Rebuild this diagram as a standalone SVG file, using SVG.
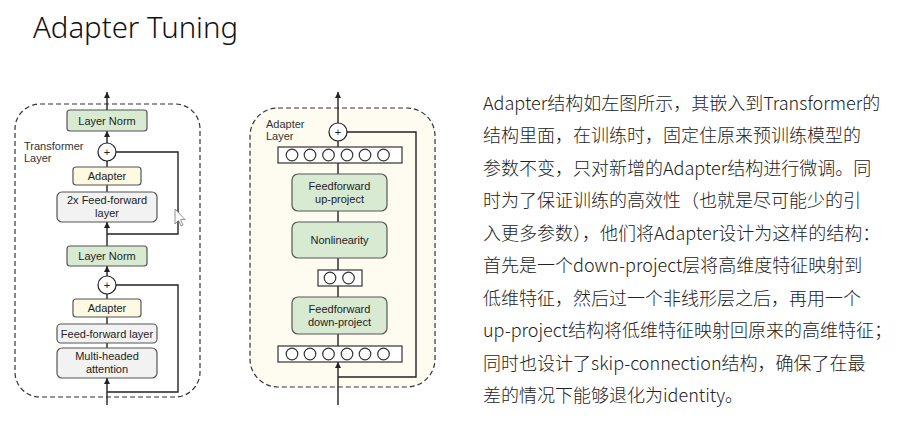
<svg xmlns="http://www.w3.org/2000/svg" width="902" height="425" viewBox="0 0 902 425">
<defs>
<marker id="ah" viewBox="0 0 10 10" refX="10" refY="5" markerWidth="6" markerHeight="6" orient="auto" markerUnits="userSpaceOnUse">
<path d="M0,0 L10,5 L0,10 z" fill="#222"/>
</marker>
<style>
.lbl{font-family:"Liberation Sans",Arial,sans-serif;font-size:11px;fill:#222;text-anchor:middle}
.cap{font-family:"Liberation Sans",Arial,sans-serif;font-size:11px;fill:#333}
.green{fill:#d9ead3;stroke:#555;stroke-width:1.2}
.cream{fill:#fdf9e3;stroke:#555;stroke-width:1.2}
.gray{fill:#f2f2f2;stroke:#555;stroke-width:1.2}
.neu{fill:#fff;stroke:#333;stroke-width:1.2}
.ln{stroke:#222;stroke-width:1.4;fill:none}
.dash{stroke:#333;stroke-width:1.2;stroke-dasharray:5 3}
.body{font-family:"Noto Sans CJK SC","Noto Sans",sans-serif;font-size:18px;fill:#222;font-weight:300}
</style>
</defs>
<rect width="902" height="425" fill="#fff"/>
<text x="33" y="38" font-family="'Noto Sans','Noto Sans CJK SC',sans-serif" font-size="30" font-weight="300" fill="#111" textLength="205" lengthAdjust="spacingAndGlyphs">Adapter Tuning</text>

<!-- containers -->
<g id="transformer-layer">
<rect x="15" y="104" width="185" height="293" rx="25" fill="#fff" class="dash"/>
<text class="cap" x="24" y="150">Transformer</text>
<text class="cap" x="24" y="162">Layer</text>
</g>
<g id="adapter-layer">
<rect x="250" y="108" width="185" height="279" rx="28" fill="#fefcf0" class="dash"/>
<text class="cap" x="266" y="128">Adapter</text>
<text class="cap" x="266" y="140">Layer</text>
</g>

<!-- connectors -->
<g id="connectors">
<line class="ln" x1="107" y1="110" x2="107" y2="92" marker-end="url(#ah)"/>
<line class="ln" x1="107" y1="143" x2="107" y2="131" marker-end="url(#ah)"/>
<line class="ln" x1="107" y1="167" x2="107" y2="161"/>
<line class="ln" x1="107" y1="192" x2="107" y2="185"/>
<line class="ln" x1="107" y1="246" x2="107" y2="222" marker-end="url(#ah)"/>
<line class="ln" x1="107" y1="276" x2="107" y2="266" marker-end="url(#ah)"/>
<line class="ln" x1="107" y1="299" x2="107" y2="294"/>
<line class="ln" x1="107" y1="324" x2="107" y2="317"/>
<line class="ln" x1="107" y1="348" x2="107" y2="343"/>
<line class="ln" x1="107" y1="405" x2="107" y2="378" marker-end="url(#ah)"/>
<polyline class="ln" points="116,152 178,152 178,234 107,234"/>
<polyline class="ln" points="116,285 178,285 178,392 107,392"/>

<line class="ln" x1="338" y1="123" x2="338" y2="92" marker-end="url(#ah)"/>
<line class="ln" x1="338" y1="147" x2="338" y2="141"/>
<line class="ln" x1="338" y1="174" x2="338" y2="163"/>
<line class="ln" x1="338" y1="222" x2="338" y2="211"/>
<line class="ln" x1="338" y1="270" x2="338" y2="258"/>
<line class="ln" x1="338" y1="297" x2="338" y2="286"/>
<line class="ln" x1="338" y1="346" x2="338" y2="334"/>
<line class="ln" x1="338" y1="405" x2="338" y2="362" marker-end="url(#ah)"/>
<polyline class="ln" points="347,132 416,132 416,377 338,377"/>
</g>

<!-- left nodes -->
<g id="layernorm-top"><rect class="green" x="67" y="110" width="80" height="21" rx="3"/><text class="lbl" x="107" y="124.5">Layer Norm</text></g>
<g id="add-top"><circle cx="107" cy="152" r="9" fill="#fff" stroke="#222" stroke-width="1.2"/><text class="lbl" x="107" y="156" font-size="10">+</text></g>
<g id="adapter-top"><rect class="cream" x="73" y="167" width="68" height="18" rx="3"/><text class="lbl" x="107" y="180">Adapter</text></g>
<g id="ffn-2x"><rect class="gray" x="57" y="192" width="100" height="30" rx="5"/><text class="lbl" x="107" y="204">2x Feed-forward</text><text class="lbl" x="107" y="217">layer</text></g>
<g id="layernorm-bottom"><rect class="green" x="67" y="246" width="80" height="20" rx="3"/><text class="lbl" x="107" y="260">Layer Norm</text></g>
<g id="add-bottom"><circle cx="107" cy="285" r="9" fill="#fff" stroke="#222" stroke-width="1.2"/><text class="lbl" x="107" y="289" font-size="10">+</text></g>
<g id="adapter-bottom"><rect class="cream" x="73" y="299" width="68" height="18" rx="3"/><text class="lbl" x="107" y="312">Adapter</text></g>
<g id="ffn"><rect class="gray" x="57" y="324" width="100" height="19" rx="4"/><text class="lbl" x="107" y="337.5">Feed-forward layer</text></g>
<g id="mha"><rect class="gray" x="57" y="348" width="100" height="30" rx="5"/><text class="lbl" x="107" y="360">Multi-headed</text><text class="lbl" x="107" y="373">attention</text></g>
<g id="cursor"><path d="M175,209 L175,224 L178.5,220.5 L181,226 L183,225 L180.5,219.5 L185,219.5 Z" fill="#fff" stroke="#777" stroke-width="0.8"/></g>

<!-- right nodes -->
<g id="add-adapter"><circle cx="338" cy="132" r="9" fill="#fff" stroke="#222" stroke-width="1.2"/><text class="lbl" x="338" y="136" font-size="10">+</text></g>
<g id="neurons-top"><rect class="neu" x="278" y="147" width="124" height="16"/>
<circle class="neu" cx="292" cy="155" r="5.8"/><circle class="neu" cx="310" cy="155" r="5.8"/><circle class="neu" cx="328.5" cy="155" r="5.8"/><circle class="neu" cx="347" cy="155" r="5.8"/><circle class="neu" cx="365" cy="155" r="5.8"/><circle class="neu" cx="383.5" cy="155" r="5.8"/></g>
<g id="ff-up"><rect class="green" x="292" y="174" width="95" height="37" rx="6"/><text class="lbl" x="339.5" y="190">Feedforward</text><text class="lbl" x="339.5" y="203">up-project</text></g>
<g id="nonlinearity"><rect class="green" x="292" y="222" width="95" height="36" rx="6"/><text class="lbl" x="339.5" y="244">Nonlinearity</text></g>
<g id="neurons-mid"><rect class="neu" x="318" y="270" width="44" height="16"/>
<circle class="neu" cx="330" cy="278" r="5.8"/><circle class="neu" cx="348.5" cy="278" r="5.8"/></g>
<g id="ff-down"><rect class="green" x="292" y="297" width="95" height="37" rx="6"/><text class="lbl" x="339.5" y="313">Feedforward</text><text class="lbl" x="339.5" y="326">down-project</text></g>
<g id="neurons-bottom"><rect class="neu" x="278" y="346" width="124" height="16"/>
<circle class="neu" cx="292" cy="354" r="5.8"/><circle class="neu" cx="310" cy="354" r="5.8"/><circle class="neu" cx="328.5" cy="354" r="5.8"/><circle class="neu" cx="347" cy="354" r="5.8"/><circle class="neu" cx="365" cy="354" r="5.8"/><circle class="neu" cx="383.5" cy="354" r="5.8"/></g>

<!-- description -->
<g id="description">
<text class="body" x="483" y="110">Adapter结构如左图所示，其嵌入到Transformer的</text>
<text class="body" x="483" y="142">结构里面，在训练时，固定住原来预训练模型的</text>
<text class="body" x="483" y="175">参数不变，只对新增的Adapter结构进行微调。同</text>
<text class="body" x="483" y="207">时为了保证训练的高效性（也就是尽可能少的引</text>
<text class="body" x="483" y="240">入更多参数），他们将Adapter设计为这样的结构：</text>
<text class="body" x="483" y="272">首先是一个down-project层将高维度特征映射到</text>
<text class="body" x="483" y="305">低维特征，然后过一个非线形层之后，再用一个</text>
<text class="body" x="483" y="337">up-project结构将低维特征映射回原来的高维特征；</text>
<text class="body" x="483" y="370">同时也设计了skip-connection结构，确保了在最</text>
<text class="body" x="483" y="402">差的情况下能够退化为identity。</text>
</g>
</svg>
